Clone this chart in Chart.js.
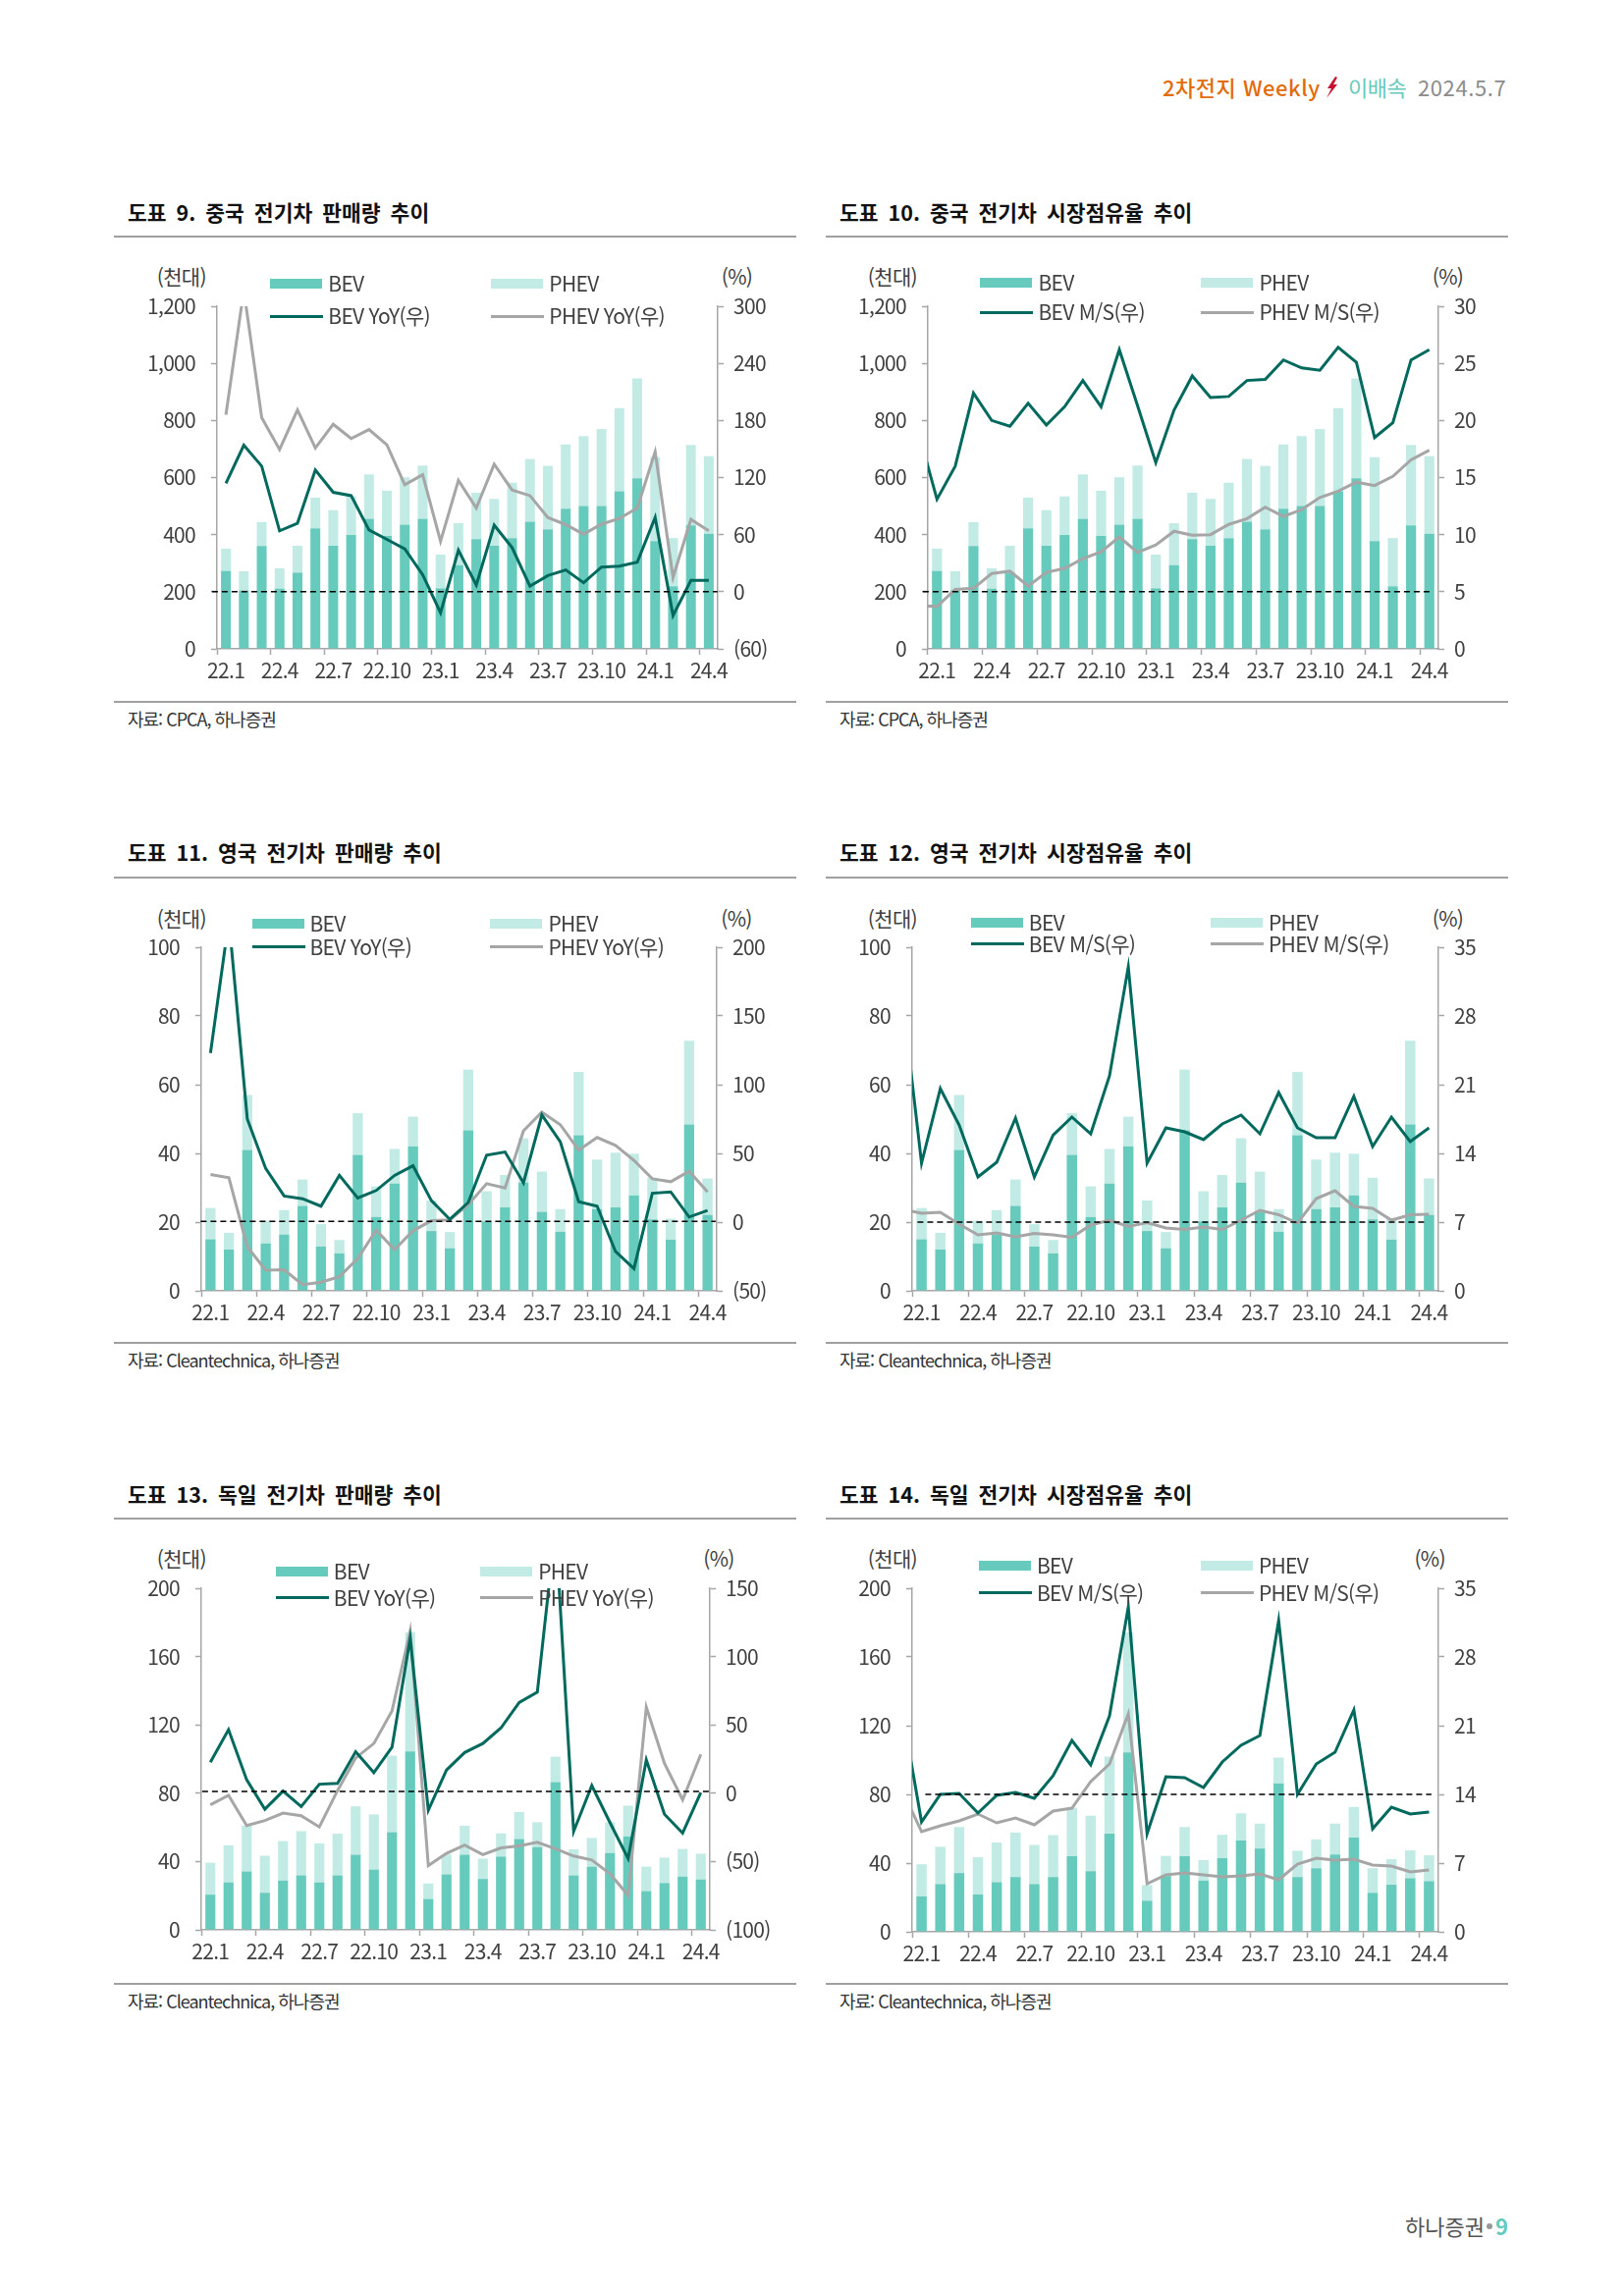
<!DOCTYPE html>
<html lang="ko">
<head>
<meta charset="utf-8">
<title>2차전지 Weekly</title>
<script src="https://cdn.jsdelivr.net/npm/chart.js@4/dist/chart.umd.js"></script>
<style>
  html, body { margin: 0; padding: 0; background: #fff; }
  #page { position: relative; width: 1654px; height: 2339px; overflow: hidden; font-family: "Noto Sans CJK KR", "Noto Sans", sans-serif; }
  #page > * { position: absolute; white-space: nowrap; }
  .title { font-size: 21.5px; font-weight: 700; color: #111; word-spacing: 4px; line-height: 26px; }
  .rule { height: 2px; background: #a0a0a0; }
  .source { font-size: 18px; color: #333; line-height: 22px; letter-spacing: -1px; }
  .unit, .leg { font-size: 21px; color: #404040; line-height: 24px; letter-spacing: -0.7px; }
  .unit { transform: translateX(-50%); }
</style>
</head>
<body>
<div id="page"></div>
<script>
// months on the x axis, a label is shown on every third one
var months = ["22.1","22.2","22.3","22.4","22.5","22.6","22.7","22.8","22.9","22.10","22.11","22.12",
              "23.1","23.2","23.3","23.4","23.5","23.6","23.7","23.8","23.9","23.10","23.11","23.12",
              "24.1","24.2","24.3","24.4"];

// China sales (thousand)
var cnBev  = [273,205,360,211,267,422,361,399,456,395,435,456,212,293,384,361,388,445,419,491,500,500,552,597,377,219,432,403];
var cnPhev = [78,67,84,71,94,108,125,135,155,159,166,186,118,147,163,164,194,220,222,225,245,270,291,350,294,169,282,272];
var cnBevYoy  = [114,154,132,64,72,128,104.5,101,65,55,45,18,-22,43.5,7,70,46.5,6,17,23,9.5,26,27,31,78,-25,12,12];
var cnPhevYoy = [186,317,183,149.5,191,151,176,161,170.5,154.5,112.5,123,53,117,88,134,107,101,78,70.5,60.5,71,77,88,147,15,76,64];
// share series carry one extra leading month (21.12) that runs off the left edge
var cnBevMs  = [18.9,13.1,16.0,22.4,20.0,19.5,21.5,19.6,21.2,23.5,21.2,26.2,21.3,16.3,20.9,23.9,22.0,22.1,23.5,23.6,25.3,24.6,24.4,26.4,25.1,18.5,19.8,25.3,26.2];
var cnPhevMs = [3.8,3.7,5.2,5.3,6.6,6.8,5.5,6.7,7.05,7.9,8.5,9.8,8.45,9.1,10.3,9.95,10.0,10.9,11.4,12.4,11.6,12.2,13.25,13.8,14.6,14.3,15.1,16.55,17.4];

// UK sales (thousand)
var ukBev  = [15,12,41,13.8,16.4,24.7,12.9,10.9,39.6,21.5,31.2,42.1,17.4,12.4,46.7,20.2,24.3,31.5,23,17.2,45.3,23.8,24.3,27.8,20.8,14.9,48.4,22.1];
var ukPhev = [9.1,4.9,16,6.6,7.1,7.7,6.5,3.9,12.1,8.9,10.1,8.6,8.9,4.7,17.7,8.8,9.4,12.9,11.7,6.6,18.4,14.4,15.9,12.1,12.1,6.1,24.4,10.6];
var ukBevYoy  = [123,220,75,39,19,17,11.6,34,17.5,23,34,41,15.6,2,14.3,48.7,51,28.6,78,58.5,14.8,11.6,-21.4,-33.9,21,22,3.7,8.5];
var ukPhevYoy = [34.7,32.3,-18,-35,-34.7,-45.5,-43.7,-39.7,-26.5,-5.8,-20,-6.3,1,1.6,12.7,28,24.9,66.4,80,70.9,52.4,61.6,55.8,45,31.5,29.4,37,22];
var ukBevMs  = [29.6,13.0,20.6,16.9,11.6,13.1,17.6,11.6,15.85,17.7,16,21.9,33,13,16.6,16.2,15.4,17,17.9,16,20.2,16.6,15.6,15.6,19.8,14.7,17.7,15.2,16.6];
var ukPhevMs = [8.3,7.9,8,6.8,5.7,5.9,5.5,5.85,5.7,5.45,6.7,7.2,6.55,6.95,6.4,6.25,6.5,6.25,7.2,8.2,7.75,6.9,9.4,10.2,8.6,8.4,7.2,7.75,7.8];

// Germany sales (thousand)
var deBev  = [20.6,27.8,34.2,21.7,28.9,31.9,27.8,31.9,44,35.3,57.2,104.4,18.1,32.5,44,29.8,42.9,53.1,48.5,86.5,31.9,37,45,54.8,22.7,27.4,31.2,29.5];
var dePhev = [18.7,21.7,26.8,21.7,23.1,25.9,22.8,24.4,28.3,32.3,44.8,69.9,9.1,11.7,17,11.9,13.6,15.9,14.5,14.9,15.3,16.8,18,17.9,14.3,14.9,16.2,15.1];
var deBevYoy  = [22.6,46.5,9.8,-11.7,1.6,-9.8,6.6,7.2,30.3,15.1,33.7,113.4,-12.5,17,29.8,36.4,47.8,66.4,74,195,-28,5.6,-21.5,-47.8,24.4,-15.4,-29.2,0.5];
var dePhevYoy = [-8.5,-1.6,-23.6,-20,-14.6,-16.5,-24.7,1.9,25.8,36.4,60.3,118.8,-53,-44,-38,-45,-40,-38.5,-35.9,-40.6,-46,-48.9,-59,-74.7,63,21.8,-4.8,28.4];
var deBevMs  = [22.2,11.2,14,14.1,12.1,13.9,14.2,13.6,15.9,19.5,17,22,33.1,10,15.8,15.7,14.7,17.3,19,20,31.7,14,17.1,18.3,22.6,10.5,12.7,12,12.2];
var dePhevMs = [14.3,10.2,10.8,11.3,12,11.1,11.6,10.9,12.3,12.6,15.3,17.1,22.2,4.9,5.8,6,5.8,5.6,5.7,5.9,5.3,6.9,7.5,7.3,7.4,6.8,6.7,6.1,6.3];

var BEV_BAR = "#66cabc", PHEV_BAR = "#c3ebe5", BEV_LINE = "#00695e", PHEV_LINE = "#a6a6a6";
var AXIS_GREY = "#a6a6a6", TEXT = "#404040";
var TICK_FAMILY = '"Noto Sans CJK KR", "Noto Sans", sans-serif';

var panels = [
  { title: "도표 9. 중국 전기차 판매량 추이", source: "자료: CPCA, 하나증권", bev: cnBev, phev: cnPhev, bevLine: cnBevYoy, phevLine: cnPhevYoy, tag: "YoY",
    leftMax: 1200, leftStep: 200, rightMin: -60, rightMax: 300, rightStep: 60, dashAt: 0,
    plot: [220.7, 312.1, 730.4, 661.3], dash: [215.6, 730.4], textX: 130, ruleX: [116.4, 811], titleY: 215.5, ruleY: 241, ruleY2: 714.6, sourceY: 732,
    leg: { x1: 275.3, x2: 500.3, y1: 289.1, y2: 322.1 }, unitY: 281, unitL: 184.8, unitR: 750.5 },
  { title: "도표 10. 중국 전기차 시장점유율 추이", source: "자료: CPCA, 하나증권", bev: cnBev, phev: cnPhev, bevLine: cnBevMs, phevLine: cnPhevMs, tag: "M/S",
    leftMax: 1200, leftStep: 200, rightMin: 0, rightMax: 30, rightStep: 5, dashAt: 5,
    plot: [944.7, 312.1, 1464.5, 661.3], dash: [939.6, 1458.5], textX: 855, ruleX: [841, 1535.5], titleY: 215.5, ruleY: 241, ruleY2: 714.6, sourceY: 732,
    leg: { x1: 998.4, x2: 1223.4, y1: 287.7, y2: 318.4 }, unitY: 281, unitL: 908.9, unitR: 1474.5 },
  { title: "도표 11. 영국 전기차 판매량 추이", source: "자료: Cleantechnica, 하나증권", bev: ukBev, phev: ukPhev, bevLine: ukBevYoy, phevLine: ukPhevYoy, tag: "YoY",
    leftMax: 100, leftStep: 20, rightMin: -50, rightMax: 200, rightStep: 50, dashAt: 0.5,
    plot: [204.6, 964.7, 730, 1314.3], dash: [204, 728.5], textX: 130, ruleX: [116.4, 811], titleY: 868, ruleY: 894.4, ruleY2: 1367.9, sourceY: 1385,
    leg: { x1: 256.5, x2: 499.4, y1: 940.6, y2: 964.7 }, unitY: 934.5, unitL: 184.8, unitR: 750 },
  { title: "도표 12. 영국 전기차 시장점유율 추이", source: "자료: Cleantechnica, 하나증권", bev: ukBev, phev: ukPhev, bevLine: ukBevMs, phevLine: ukPhevMs, tag: "M/S",
    leftMax: 100, leftStep: 20, rightMin: 0, rightMax: 35, rightStep: 7, dashAt: 7,
    plot: [928.6, 964.7, 1464.5, 1314.3], dash: [934, 1454], textX: 855, ruleX: [841, 1535.5], titleY: 868, ruleY: 894.4, ruleY2: 1367.9, sourceY: 1385,
    leg: { x1: 988.8, x2: 1233, y1: 939.9, y2: 961.7 }, unitY: 934.5, unitL: 908.9, unitR: 1474.5 },
  { title: "도표 13. 독일 전기차 판매량 추이", source: "자료: Cleantechnica, 하나증권", bev: deBev, phev: dePhev, bevLine: deBevYoy, phevLine: dePhevYoy, tag: "YoY",
    leftMax: 200, leftStep: 40, rightMin: -100, rightMax: 150, rightStep: 50, dashAt: 1.3,
    plot: [204.6, 1618.4, 722.5, 1966.5], dash: [205.5, 725], textX: 130, ruleX: [116.4, 811], titleY: 1521.5, ruleY: 1547, ruleY2: 2021.3, sourceY: 2038,
    leg: { x1: 280.8, x2: 489.2, y1: 1600.6, y2: 1627.6 }, unitY: 1587, unitL: 184.8, unitR: 732 },
  { title: "도표 14. 독일 전기차 시장점유율 추이", source: "자료: Cleantechnica, 하나증권", bev: deBev, phev: dePhev, bevLine: deBevMs, phevLine: dePhevMs, tag: "M/S",
    leftMax: 200, leftStep: 40, rightMin: 0, rightMax: 35, rightStep: 7, dashAt: 14,
    plot: [928.6, 1617.7, 1464.4, 1967.3], dash: [942, 1457.5], textX: 855, ruleX: [841, 1535.5], titleY: 1521.5, ruleY: 1547, ruleY2: 2021.3, sourceY: 2038,
    leg: { x1: 997, x2: 1222.9, y1: 1595.1, y2: 1622.8 }, unitY: 1587, unitL: 908.9, unitR: 1456.2 }
];

var page = document.getElementById("page");

function addBox(cls, text, x, y, css){
  var el = document.createElement("div");
  el.className = cls;
  el.textContent = text;
  el.style.left = x + "px";
  el.style.top = y + "px";
  if (css) el.style.cssText += css;
  page.appendChild(el);
  return el;
}

// values of length 29 start one month before the first bar
function toPoints(values){
  var start = values.length - months.length;
  return values.map(function(v, i){ return { x: i - start, y: v }; });
}

function bracketNeg(v){
  return v < 0 ? "(" + (-v) + ")" : String(v);
}

function addLegend(p){
  var l = p.leg;
  addBox("", "", l.x1, l.y1 - 5, "width:53px;height:10px;background:" + BEV_BAR);
  addBox("", "", l.x2, l.y1 - 5, "width:53px;height:10px;background:" + PHEV_BAR);
  addBox("", "", l.x1, l.y2 - 1.5, "width:54px;height:3px;background:" + BEV_LINE);
  addBox("", "", l.x2, l.y2 - 1.5, "width:54px;height:3px;background:" + PHEV_LINE);
  addBox("leg", "BEV", l.x1 + 59, l.y1 - 13);
  addBox("leg", "PHEV", l.x2 + 59, l.y1 - 13);
  addBox("leg", "BEV " + p.tag + "(우)", l.x1 + 59, l.y2 - 13);
  addBox("leg", "PHEV " + p.tag + "(우)", l.x2 + 59, l.y2 - 13);
}

// narrower tick text and the dashed reference line on a right axis value
var dashPlugin = {
  id: "dashRef",
  beforeDraw: function(chart){
    chart.ctx.letterSpacing = "-0.7px";
  },
  afterDatasetsDraw: function(chart, args, opts){
    var y = chart.scales.yr.getPixelForValue(opts.at);
    var ctx = chart.ctx;
    ctx.save();
    ctx.setLineDash([6, 4]);
    ctx.lineWidth = 1.5;
    ctx.strokeStyle = "#000";
    ctx.beginPath();
    ctx.moveTo(opts.from, y);
    ctx.lineTo(opts.to, y);
    ctx.stroke();
    ctx.restore();
  }
};

function drawPanel(p){
  var LEFT = 100, RIGHT = 70, TOP = 20, BOTTOM = 50;
  var w = p.plot[2] - p.plot[0], h = p.plot[3] - p.plot[1];
  var canvasX = p.plot[0] - LEFT, canvasY = p.plot[1] - TOP;

  addBox("title", p.title, p.textX, p.titleY - 13);
  addBox("rule", "", p.ruleX[0], p.ruleY - 1, "width:" + (p.ruleX[1] - p.ruleX[0]) + "px");
  addBox("rule", "", p.ruleX[0], p.ruleY2 - 1, "width:" + (p.ruleX[1] - p.ruleX[0]) + "px");
  addBox("source", p.source, p.textX, p.sourceY - 11);
  addBox("unit", "(천대)", p.unitL, p.unitY - 12);
  addBox("unit", "(%)", p.unitR, p.unitY - 12);

  var canvas = document.createElement("canvas");
  canvas.style.left = canvasX + "px";
  canvas.style.top = canvasY + "px";
  canvas.width = Math.round(LEFT + w + RIGHT);
  canvas.height = Math.round(TOP + h + BOTTOM);
  page.appendChild(canvas);
  addLegend(p);

  var tickFont = { family: TICK_FAMILY, size: 21 };
  new Chart(canvas, {
    data: {
      labels: months,
      datasets: [
        { type: "line", label: "BEV " + p.tag, data: toPoints(p.bevLine), xAxisID: "xl", yAxisID: "yr", order: 0,
          borderColor: BEV_LINE, borderWidth: 3, pointRadius: 0, tension: 0 },
        { type: "line", label: "PHEV " + p.tag, data: toPoints(p.phevLine), xAxisID: "xl", yAxisID: "yr", order: 0,
          borderColor: PHEV_LINE, borderWidth: 3, pointRadius: 0, tension: 0 },
        { type: "bar", label: "BEV", data: p.bev, xAxisID: "x", yAxisID: "y", order: 1, grouped: false,
          backgroundColor: BEV_BAR, barPercentage: 0.55, categoryPercentage: 1 },
        { type: "bar", label: "PHEV", data: p.phev, xAxisID: "x", yAxisID: "y", order: 1, grouped: false,
          backgroundColor: PHEV_BAR, barPercentage: 0.55, categoryPercentage: 1 }
      ]
    },
    options: {
      responsive: false,
      animation: false,
      layout: { autoPadding: false, padding: { top: TOP, left: 0, right: 0, bottom: 0 } },
      plugins: {
        legend: { display: false },
        tooltip: { enabled: false },
        dashRef: { at: p.dashAt, from: p.dash[0] - canvasX, to: p.dash[1] - canvasX }
      },
      scales: {
        x: {
          stacked: true,
          afterFit: function(s){ s.height = BOTTOM; s.paddingLeft = 0; s.paddingRight = 0; },
          border: { color: AXIS_GREY, width: 1.5 },
          grid: {
            offset: true, drawOnChartArea: false, tickLength: 6, tickWidth: 1.5,
            tickColor: function(c){ return c.index % 3 === 0 ? AXIS_GREY : "transparent"; }
          },
          ticks: {
            autoSkip: false, maxRotation: 0, padding: 3, color: TEXT, font: tickFont,
            callback: function(v, i){ return i % 3 === 0 ? months[i] : ""; }
          }
        },
        xl: { type: "linear", axis: "x", display: false, min: -0.5, max: months.length - 0.5 },
        y: {
          stacked: true, position: "left", min: 0, max: p.leftMax,
          afterFit: function(s){ s.width = LEFT; s.paddingTop = 0; s.paddingBottom = 0; },
          border: { color: AXIS_GREY, width: 1.5 },
          grid: { drawOnChartArea: false, tickLength: 6, tickWidth: 1.5, tickColor: AXIS_GREY },
          ticks: { stepSize: p.leftStep, padding: 16, color: TEXT, font: tickFont }
        },
        yr: {
          position: "right", min: p.rightMin, max: p.rightMax,
          afterFit: function(s){ s.width = RIGHT; s.paddingTop = 0; s.paddingBottom = 0; },
          border: { color: AXIS_GREY, width: 1.5 },
          grid: { drawOnChartArea: false, tickLength: 6, tickWidth: 1.5, tickColor: AXIS_GREY },
          ticks: { stepSize: p.rightStep, padding: 10, color: TEXT, font: tickFont, callback: bracketNeg }
        }
      }
    },
    plugins: [dashPlugin]
  });
}

function drawHeader(){
  var head = "font-size:22px;line-height:28px;";
  addBox("", "2차전지 Weekly", 1184, 73.5, head + "color:#e36c0a;font-weight:500;letter-spacing:0.5px");
  var bolt = document.createElementNS("http://www.w3.org/2000/svg", "svg");
  bolt.setAttribute("width", "12");
  bolt.setAttribute("height", "22");
  bolt.setAttribute("viewBox", "0 0 12 22");
  bolt.style.left = "1351px";
  bolt.style.top = "78px";
  bolt.innerHTML = '<polygon points="9,0 1,12 5,12 0,22 11,8 7,8 11,1" fill="#c8102e"/>';
  page.appendChild(bolt);
  addBox("", "이배속", 1373, 73.5, head + "color:#66cabc;letter-spacing:-0.5px");
  addBox("", "2024.5.7", 1444, 73.5, head + "color:#8c8c8c;letter-spacing:0.6px");
  addBox("", "하나증권", 1431, 2254, "font-size:22px;line-height:26px;color:#555");
  addBox("", "", 1514, 2265, "width:6px;height:6px;border-radius:3px;background:#999");
  addBox("", "9", 1523, 2253, "font-size:22px;line-height:28px;font-weight:700;color:#66cabc");
}

drawHeader();
for (var i = 0; i < panels.length; i++){
  drawPanel(panels[i]);
}
</script>
</body>
</html>
